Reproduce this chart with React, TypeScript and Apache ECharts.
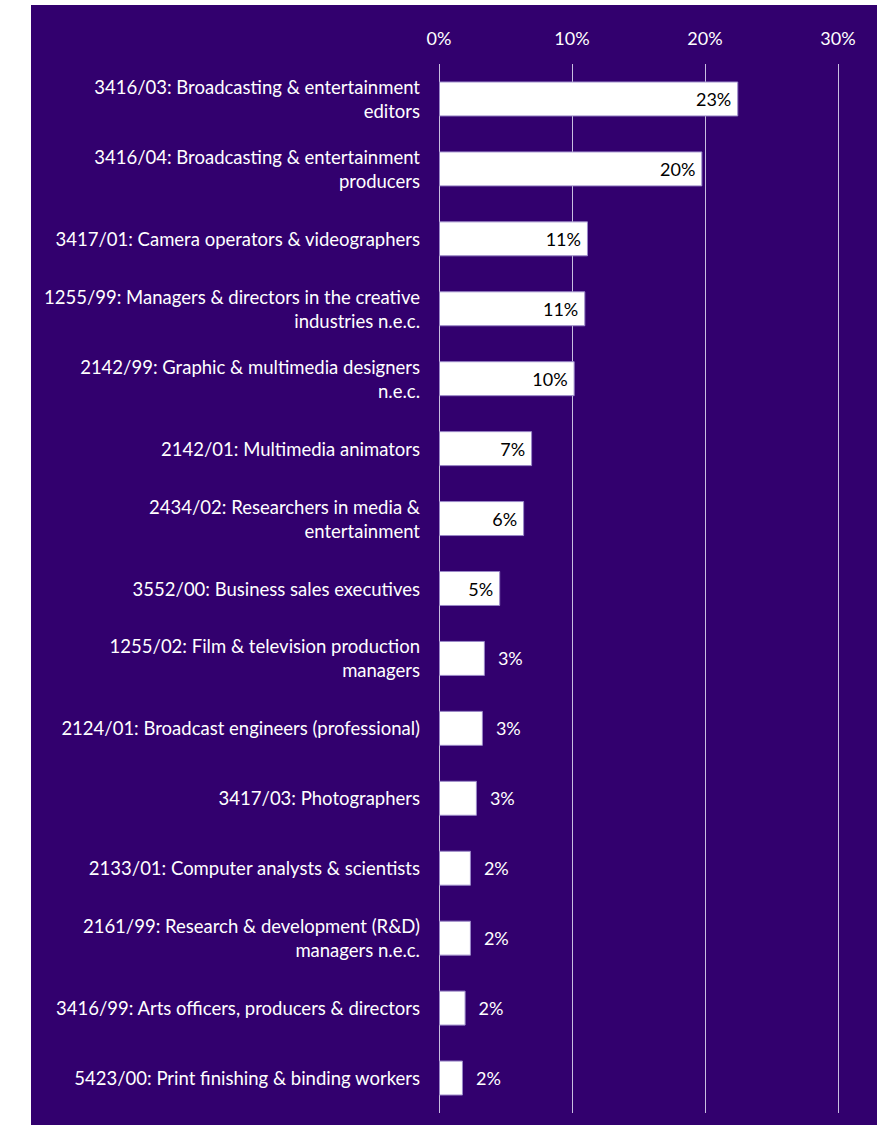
import React, { useEffect, useRef } from "react";
import * as echarts from "echarts";

const categories: string[] = [
  "3416/03: Broadcasting & entertainment\neditors",
  "3416/04: Broadcasting & entertainment\nproducers",
  "3417/01: Camera operators & videographers",
  "1255/99: Managers & directors in the creative\nindustries n.e.c.",
  "2142/99: Graphic & multimedia designers\nn.e.c.",
  "2142/01: Multimedia animators",
  "2434/02: Researchers in media &\nentertainment",
  "3552/00: Business sales executives",
  "1255/02: Film & television production\nmanagers",
  "2124/01: Broadcast engineers (professional)",
  "3417/03: Photographers",
  "2133/01: Computer analysts & scientists",
  "2161/99: Research & development (R&D)\nmanagers n.e.c.",
  "3416/99: Arts officers, producers & directors",
  "5423/00: Print finishing & binding workers",
];

const shares: number[] = [22.5, 19.8, 11.2, 11.0, 10.2, 7.0, 6.4, 4.6, 3.45, 3.3, 2.85, 2.4, 2.4, 2.0, 1.8];

const axisTicks: number[] = [0, 10, 20, 30];

const FONT = "Lato";

export default function App() {
  const ref = useRef<HTMLDivElement>(null);
  useEffect(() => {
    if (!ref.current) return;
    const chart = echarts.init(ref.current, undefined, { renderer: "svg" });
    const data = shares.map((v) => {
      const inside = v >= 4.5;
      return {
        value: v,
        label: inside
          ? { position: "insideRight", color: "#000000", distance: 7 }
          : { position: "right", color: "#ffffff", distance: 13 },
      };
    });
    chart.setOption({
      animation: false,
      backgroundColor: "#ffffff",
      graphic: [
        {
          type: "rect",
          z: -10,
          shape: { x: 31, y: 5, width: 846, height: 1120 },
          style: { fill: "#32006E" },
          silent: true,
        },
      ],
      grid: { left: 439, right: 39, top: 64, bottom: 12, containLabel: false },
      xAxis: {
        type: "value",
        position: "top",
        min: axisTicks[0],
        max: axisTicks[axisTicks.length - 1],
        interval: 10,
        axisLine: { show: false },
        axisTick: { show: false },
        axisLabel: {
          color: "#ffffff",
          fontFamily: FONT,
          fontSize: 18,
          margin: 17,
          formatter: (v: number) => `${v}%`,
        },
        splitLine: { show: true, lineStyle: { color: "#C8BEE0", width: 1 } },
      },
      yAxis: {
        type: "category",
        inverse: true,
        data: categories,
        axisLine: { show: false },
        axisTick: { show: false },
        axisLabel: {
          color: "#ffffff",
          fontFamily: FONT,
          fontSize: 18.5,
          lineHeight: 24,
          margin: 19,
          align: "right",
        },
      },
      series: [
        {
          type: "bar",
          data,
          barWidth: "50%",
          itemStyle: { color: "#ffffff", borderColor: "#9A88C8", borderWidth: 1 },
          label: {
            show: true,
            fontFamily: FONT,
            fontSize: 18,
            formatter: (p: any) => `${Math.round(p.value)}%`,
          },
        },
      ],
    });
    return () => chart.dispose();
  }, []);
  return (
    <div
      ref={ref}
      style={{ position: "absolute", left: 0, top: 0, width: 877, height: 1125 }}
    />
  );
}
